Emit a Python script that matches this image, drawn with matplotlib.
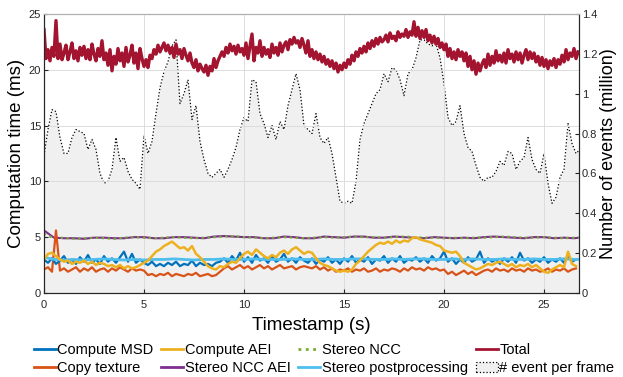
import numpy as np
import matplotlib
matplotlib.use("Agg")
import matplotlib.pyplot as plt
from matplotlib.patches import Patch

plt.rcParams['font.family'] = ['Liberation Sans', 'DejaVu Sans']

# total time (ms), one value every 0.1 s
total = [23.6, 21.0, 21.8, 20.8, 22.0, 21.2, 24.4, 21.0, 22.3, 20.9,
         21.5, 22.2, 20.9, 21.6, 22.4, 21.0, 21.7, 20.8, 22.0, 21.3,
         22.1, 21.0, 21.8, 20.9, 22.3, 21.4, 20.8, 21.9, 21.2, 22.6,
         20.9, 21.5, 20.4, 21.8, 19.9, 21.2, 20.5, 21.9, 20.8, 21.5,
         20.3, 22.0, 20.7, 21.3, 22.2, 20.6, 21.5, 20.1, 21.9, 21.0,
         20.3, 20.9, 20.2, 21.3, 21.0, 21.8, 21.4, 22.2, 21.6, 22.0,
         22.4, 21.7, 22.2, 21.5, 22.0, 21.1, 22.3, 21.4, 21.8, 21.0,
         21.9, 21.3, 20.8, 21.5, 20.6, 20.2, 20.9, 19.9, 20.5, 20.1,
         19.8, 20.4, 19.5, 20.3, 19.9, 21.0, 20.2, 20.8, 21.2, 21.6,
         21.2, 22.0, 21.5, 22.3, 21.7, 22.1, 21.4, 22.2, 21.6, 21.9,
         21.3, 22.4, 21.0, 22.1, 23.2, 20.8, 22.0, 21.5, 22.6, 21.2,
         22.0, 21.4, 21.8, 21.1, 22.3, 21.5, 22.0, 21.3, 22.4, 21.6,
         22.2, 22.5, 21.8, 22.7, 22.3, 22.9, 22.4, 22.6, 22.0, 22.8,
         22.2, 21.5, 22.6, 21.2, 21.8, 21.0, 21.6, 20.9, 21.4, 20.7,
         21.2, 20.5, 20.9, 20.3, 20.8, 20.1, 20.6, 19.8, 20.4, 20.0,
         20.6, 20.2, 20.9, 20.5, 21.3, 20.8, 21.6, 21.2, 21.9, 21.5,
         22.1, 21.6, 22.4, 21.9, 22.6, 22.1, 22.8, 22.3, 22.9, 22.5,
         22.7, 23.1, 22.5, 23.3, 22.8, 23.0, 22.6, 23.4, 22.9, 23.2,
         23.0, 23.6, 22.9, 23.4, 23.1, 24.3, 23.0, 23.8, 22.8, 23.5,
         22.9, 23.6, 22.6, 23.1, 22.4, 23.0, 22.3, 22.8, 22.0, 22.4,
         21.8, 22.3, 21.2, 21.9, 21.0, 21.6, 20.9, 21.8, 21.2, 21.6,
         20.8, 21.5, 20.3, 21.2, 20.0, 20.8, 19.6, 20.6, 19.9, 20.5,
         20.9, 20.2, 21.4, 20.4, 21.2, 20.6, 21.7, 20.8, 21.3, 20.7,
         21.5, 20.6, 21.8, 21.0, 21.4, 20.7, 21.6, 20.9, 21.5, 20.6,
         21.3, 21.8, 20.9, 21.6, 21.0, 21.5, 20.7, 21.2, 20.4, 21.1,
         20.3, 20.9, 20.1, 20.8, 20.4, 21.0, 20.2, 20.9, 20.5, 21.3,
         20.7, 21.8, 20.9, 21.5, 21.2, 21.9, 21.0, 21.6]

# one value every 0.2 s
compute_msd = [3.0, 2.7, 3.1, 2.6, 2.9, 3.3, 2.7, 3.0, 2.6, 3.2, 2.8, 3.4, 2.7, 3.0, 2.6, 3.3, 2.8, 3.1, 2.7, 3.2, 3.7, 2.8, 3.5, 2.7, 3.0,
               2.7, 2.5, 2.8, 2.4, 2.6, 2.4, 2.7, 2.5, 2.8, 2.4, 2.6, 2.5, 2.9, 2.4, 2.7, 2.5, 2.6, 2.4, 2.7,
               2.8, 3.1, 2.7, 3.3, 2.9, 3.6, 2.8, 3.2, 2.7, 3.4, 2.9, 3.1, 2.7, 3.3, 2.8, 3.0, 3.5, 2.8, 3.1, 2.7, 3.2, 2.9,
               2.7, 3.1, 2.6, 3.0, 2.8, 3.2, 2.7, 3.0, 2.6, 3.1, 2.8, 3.3, 2.7, 3.0, 2.8, 3.2, 2.6, 3.0, 2.9, 3.3, 2.7, 3.1,
               2.8, 3.3, 2.7, 3.0, 2.9, 3.2, 2.8, 3.1, 2.7, 3.3, 2.9, 3.1, 3.7,
               2.8, 3.1, 2.6, 3.0, 2.7, 3.2, 2.8, 3.0, 3.7, 2.7, 3.1, 2.8, 3.0, 2.6, 3.1, 2.8, 3.2, 2.7, 3.6, 2.9, 3.1, 2.7,
               3.0, 2.8, 3.2, 2.7, 3.0, 2.8, 3.1, 2.7, 3.3, 2.8, 3.0]

copy_texture = [2.1, 2.3, 1.9, 5.6, 2.0, 2.2, 1.9, 2.1, 2.3, 1.9, 2.2, 2.0, 2.3, 1.9, 2.1, 2.2, 1.9, 2.2, 2.0, 2.3, 2.1, 1.9, 2.2, 2.0, 2.1,
                2.0, 1.6, 1.7, 1.5, 1.7, 1.6, 1.8, 1.5, 1.7, 1.6, 1.5, 1.7, 1.6, 1.8, 1.5, 1.6, 1.7, 1.5, 1.6, 1.9,
                2.2, 2.4, 2.1, 2.3, 2.5, 2.2, 2.4, 2.1, 2.3, 2.5, 2.2, 2.4, 2.1, 2.3, 2.5, 2.2, 2.3, 2.4, 2.1, 2.3, 2.4,
                2.3, 2.2, 2.4, 2.1, 2.3, 2.0, 2.2, 1.9, 2.1, 2.0, 2.2, 1.9, 2.1, 2.0, 2.2, 1.9, 2.0, 2.2, 1.9, 2.1, 2.0, 2.2,
                2.1, 1.9, 2.2, 2.0, 2.3, 2.1, 2.2, 2.0, 2.3, 2.1, 2.2, 2.0, 2.1,
                1.7, 1.9, 1.6, 1.8, 2.0, 1.7, 1.9, 1.6, 1.8, 2.0, 2.1, 1.9, 2.2, 2.0, 2.1, 1.9, 2.2, 2.0, 2.1, 1.9, 2.2, 2.0,
                2.1, 1.9, 2.0, 2.2, 1.9, 2.1, 2.0, 2.2, 1.9, 2.1, 2.2]

compute_aei = [3.0, 3.5, 3.6, 3.3, 3.0, 2.8, 2.9, 2.6, 2.8, 2.7,
               2.9, 2.6, 2.8, 2.5, 2.7, 2.6, 2.4, 2.5, 2.3, 2.5, 2.2, 2.4, 2.2, 2.3, 2.5,
               2.7, 2.9, 3.3, 3.7, 3.9, 4.2, 4.4, 4.6, 4.3, 4.0,
               4.1, 3.8, 4.2, 3.5, 3.2, 2.8, 2.4, 2.2, 2.1, 2.4,
               2.3, 2.6, 2.8, 2.7, 3.1, 3.5, 3.7, 3.4, 3.9, 3.6,
               3.3, 3.1, 3.4, 3.2, 3.6, 3.8, 3.5, 3.9, 4.1, 3.8,
               3.5, 3.7, 3.6, 3.1, 2.7, 2.5, 2.4, 2.2, 2.0, 1.9,
               2.0, 1.9, 2.1, 2.6, 2.9, 3.3, 3.7, 4.0, 4.3, 4.5,
               4.4, 4.6, 4.4, 4.7, 4.5, 4.7, 4.6, 4.9, 5.0, 4.8,
               4.7, 4.6, 4.5, 4.3, 4.2, 3.8, 3.7, 3.6, 3.7, 3.3,
               2.7, 2.5, 2.3, 2.1, 2.2, 2.4, 2.6, 2.5, 2.7, 2.8,
               2.6, 2.4, 2.6, 2.3, 2.5, 2.4, 2.6, 2.3, 2.5, 2.2,
               1.9, 1.8, 2.1, 2.3, 2.5, 2.3, 3.7, 2.6, 2.4]

# one value every 0.5 s
stereo_ncc = [5.3, 4.9, 4.95, 4.85, 4.9, 4.95, 4.9, 4.85, 4.95, 5.0, 4.95, 4.9, 4.95, 5.0,
              4.95, 4.9, 4.95, 5.0, 5.05, 5.1, 5.0, 4.95, 4.9, 4.95, 5.0, 4.95, 4.9, 4.95,
              5.0, 4.95, 5.0, 5.05, 5.0, 5.0, 4.95, 5.0, 5.05, 5.0, 4.95, 4.95, 4.9, 4.95,
              4.9, 4.95, 4.95, 5.0, 5.05, 5.0, 4.95, 4.95, 5.0, 4.95, 4.9, 4.95, 4.95]
stereo_ncc_aei = [5.6, 4.95, 4.9, 4.9, 4.85, 4.95, 4.95, 4.9, 4.9, 5.0, 5.0, 4.9, 4.9, 5.0,
                  5.0, 4.95, 4.9, 5.05, 5.1, 5.05, 5.0, 5.0, 4.9, 4.9, 5.05, 5.0, 4.9, 4.9,
                  5.05, 5.0, 4.95, 5.05, 5.05, 4.95, 4.95, 5.05, 5.0, 4.95, 4.9, 5.0, 4.95, 4.9,
                  4.95, 4.9, 5.0, 5.05, 5.0, 4.95, 4.9, 5.0, 5.0, 4.9, 4.95, 4.9, 5.0]
stereo_post = [3.2, 3.0, 2.95, 3.0, 2.95, 3.0, 3.05, 3.0, 2.95, 3.0, 2.95, 3.0, 3.0, 3.05,
               3.0, 2.95, 3.0, 3.0, 3.05, 3.0, 3.0, 3.05, 3.0, 3.0, 3.0, 3.05, 3.0, 3.0,
               3.05, 3.0, 3.0, 3.05, 3.05, 3.0, 3.0, 3.05, 3.0, 3.05, 3.05, 3.0, 3.0, 3.05,
               3.0, 3.05, 3.0, 3.0, 3.05, 3.0, 3.0, 3.05, 3.0, 3.0, 3.05, 3.0, 3.0]

# number of events (million), one value every 0.2 s
events = [0.69, 0.82, 0.92, 0.91, 0.78, 0.70, 0.70, 0.78, 0.82, 0.81,
          0.80, 0.72, 0.77, 0.72, 0.60, 0.55, 0.56, 0.62, 0.78, 0.66,
          0.68, 0.61, 0.57, 0.55, 0.52, 0.79, 0.70, 0.76, 0.90, 1.03,
          1.11, 1.16, 1.24, 1.27, 0.95, 1.00, 1.07, 0.87, 0.94, 0.76,
          0.67, 0.60, 0.58, 0.60, 0.62, 0.58, 0.62, 0.67, 0.73, 0.82,
          0.88, 0.86, 1.07, 1.06, 0.90, 0.85, 0.78, 0.84, 0.77, 0.86,
          0.82, 0.94, 1.02, 1.10, 1.02, 0.84, 0.82, 0.80, 0.90, 0.78,
          0.75, 0.78, 0.70, 0.58, 0.46, 0.45, 0.46, 0.45, 0.56, 0.77,
          0.85, 0.90, 0.95, 1.00, 1.02, 1.10, 1.06, 1.13, 1.12, 1.07,
          0.99, 1.10, 1.12, 1.18, 1.27, 1.27, 1.25, 1.24, 1.25, 1.18,
          1.05, 0.88, 0.84, 0.86, 0.94, 0.80, 0.73, 0.71, 0.64, 0.58,
          0.56, 0.58, 0.58, 0.61, 0.66, 0.64, 0.71, 0.70, 0.62, 0.66,
          0.68, 0.78, 0.67, 0.62, 0.60, 0.70, 0.55, 0.45, 0.48, 0.58,
          0.62, 0.85, 0.75, 0.70, 0.72]

t_total = np.arange(len(total)) * 0.1
t_fast = np.arange(len(compute_msd)) * 0.2
t_slow = np.arange(len(stereo_ncc)) * 0.5
t_ev = np.arange(len(events)) * 0.2

fig = plt.figure(figsize=(6.23, 3.77), dpi=100)
ax = fig.add_axes([0.0706, 0.223, 0.8588, 0.740])
ax2 = ax.twinx()
ax.set_zorder(ax2.get_zorder() + 1)
ax.patch.set_visible(False)
ax2.set_facecolor('white')

ax2.fill_between(t_ev, events, 0, color='#f0f0f0', lw=0)
ax2.plot(t_ev, events, color='black', ls=':', lw=0.9)

ax.plot(t_slow, stereo_ncc_aei, color='#7E2F8E', lw=1.5)
ax.plot(t_slow, stereo_ncc, color='#77AC30', lw=1.6, ls=':')
ax.plot(t_fast, copy_texture, color='#D95319', lw=1.6)
ax.plot(t_fast, compute_msd, color='#0072BD', lw=1.6)
ax.plot(t_slow, stereo_post, color='#4DBEEE', lw=2.0)
ax.plot(t_fast, compute_aei, color='#EDB120', lw=1.8)
ax.plot(t_total, total, color='#A2142F', lw=2.4)

ax.set_xlim(0, 26.75)
ax.set_ylim(0, 25)
ax2.set_ylim(0, 1.4)
ax.set_xticks([0, 5, 10, 15, 20, 25])
ax.set_yticks([0, 5, 10, 15, 20, 25])
ax2.set_yticks(np.arange(0, 1.41, 0.2))
ax2.yaxis.set_major_formatter(matplotlib.ticker.FormatStrFormatter('%g'))

ax.grid(True, color='#dcdcdc', lw=0.7)
for a in (ax, ax2):
    a.tick_params(direction='in', labelsize=8, length=3, colors='#262626', pad=2)
    for s in a.spines.values():
        s.set_color('#262626')
        s.set_linewidth(0.8)
ax.tick_params(axis='x', pad=5)
ax.spines['top'].set_color('#b0b0b0')
ax2.spines['top'].set_color('#b0b0b0')

ax.set_xlabel('Timestamp (s)', fontsize=13.5, labelpad=5)
ax.set_ylabel('Computation time (ms)', fontsize=13.5, labelpad=3)
ax2.set_ylabel('Number of events (million)', fontsize=13, labelpad=2)

handles = [
    plt.Line2D([], [], color='#0072BD', lw=2),
    plt.Line2D([], [], color='#D95319', lw=2),
    plt.Line2D([], [], color='#EDB120', lw=2),
    plt.Line2D([], [], color='#7E2F8E', lw=2),
    plt.Line2D([], [], color='#77AC30', lw=2, ls=':'),
    plt.Line2D([], [], color='#4DBEEE', lw=2),
    plt.Line2D([], [], color='#A2142F', lw=2),
    Patch(facecolor='#f0f0f0', edgecolor='black', ls=':', lw=0.9),
]
labels = ['Compute MSD', 'Copy texture', 'Compute AEI', 'Stereo NCC AEI',
          'Stereo NCC', 'Stereo postprocessing', 'Total', '# event per frame']
fig.legend(handles, labels, ncol=4, loc='upper left', bbox_to_anchor=(0.054, 0.09),
           frameon=False, fontsize=10.5, handlelength=1.5, handletextpad=0.1,
           columnspacing=0.55, labelspacing=0.25, borderpad=0, borderaxespad=0)

fig.savefig('out.png', dpi=100)
